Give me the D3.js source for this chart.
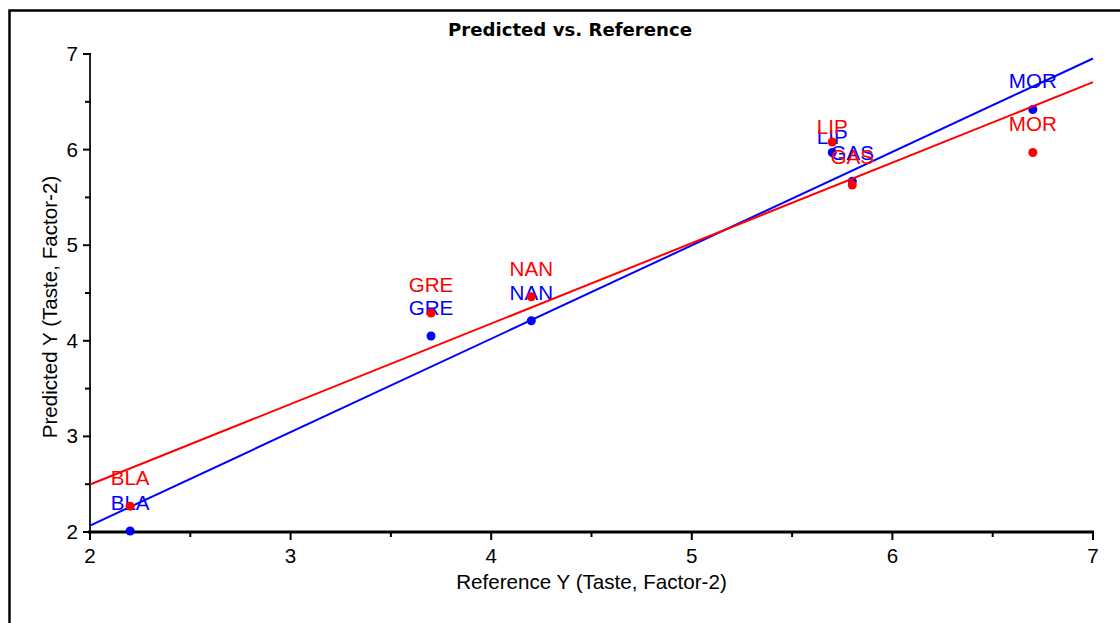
<!DOCTYPE html>
<html>
<head>
<meta charset="utf-8">
<script src="https://cdn.jsdelivr.net/npm/d3@7"></script>
<style>
  html, body { margin: 0; padding: 0; background: #fff; }
  svg { display: block; }
  text { font-family: "Liberation Sans", Arial, sans-serif; }
</style>
</head>
<body>
<svg id="chart" width="1120" height="623"></svg>
<script>
// Samples and their reference values
const samples = ["BLA", "GRE", "NAN", "LIP", "GAS", "MOR"];
const referenceY = [2.2, 3.7, 4.2, 5.7, 5.8, 6.7];

// Predicted values for the two predictions (calibration / validation)
const predictedBlue = [2.01, 4.05, 4.21, 5.97, 5.67, 6.42];
const predictedRed  = [2.27, 4.29, 4.46, 6.08, 5.63, 5.97];

const xTicks = [2, 3, 4, 5, 6, 7];
const yTicks = [2, 3, 4, 5, 6, 7];
const minorTicks = [2.5, 3.5, 4.5, 5.5, 6.5];

const titleText = "Predicted vs. Reference";
const xTitle = "Reference Y (Taste, Factor-2)";
const yTitle = "Predicted Y (Taste, Factor-2)";

const svg = d3.select("#chart");
const plot = { left: 90, right: 1093, top: 54, bottom: 532 };
const FS = "20.6px";

const x = d3.scaleLinear().domain([2, 7]).range([plot.left, plot.right]);
const y = d3.scaleLinear().domain([2, 7]).range([plot.bottom, plot.top]);

// outer frame
svg.append("rect")
  .attr("x", 9.5).attr("y", 10.5)
  .attr("width", 1200).attr("height", 800)
  .attr("fill", "none").attr("stroke", "#000").attr("stroke-width", 2.5);

// title
svg.append("text")
  .attr("x", 570).attr("y", 36)
  .attr("text-anchor", "middle")
  .style("font-family", "'DejaVu Sans', Tahoma, sans-serif")
  .style("font-weight", "bold")
  .style("font-size", "18.5px")
  .attr("textLength", 244)
  .attr("lengthAdjust", "spacingAndGlyphs")
  .text(titleText);

// least-squares fit of predicted on reference
function fit(xs, ys) {
  const n = xs.length;
  const mx = d3.mean(xs), my = d3.mean(ys);
  let sxy = 0, sxx = 0;
  for (let i = 0; i < n; i++) {
    sxy += (xs[i] - mx) * (ys[i] - my);
    sxx += (xs[i] - mx) * (xs[i] - mx);
  }
  const b = sxy / sxx;
  return { slope: b, intercept: my - b * mx };
}

// x axis
const gx = svg.append("g").attr("transform", `translate(0,${plot.bottom})`);
gx.append("line")
  .attr("x1", plot.left - 2).attr("x2", plot.right + 1)
  .attr("stroke", "#000").attr("stroke-width", 3);
gx.selectAll("line.major").data(xTicks).join("line")
  .attr("class", "major")
  .attr("x1", d => x(d)).attr("x2", d => x(d))
  .attr("y1", 0).attr("y2", 8)
  .attr("stroke", "#000").attr("stroke-width", 2);
gx.selectAll("line.minor").data(minorTicks).join("line")
  .attr("class", "minor")
  .attr("x1", d => x(d)).attr("x2", d => x(d))
  .attr("y1", 0).attr("y2", 5)
  .attr("stroke", "#000").attr("stroke-width", 2);
gx.selectAll("text").data(xTicks).join("text")
  .attr("x", d => x(d)).attr("y", 31)
  .attr("text-anchor", "middle")
  .style("font-size", FS)
  .text(d => d);

// y axis
const gy = svg.append("g").attr("transform", `translate(${plot.left},0)`);
gy.append("line")
  .attr("y1", plot.top).attr("y2", plot.bottom)
  .attr("stroke", "#222").attr("stroke-width", 2);
gy.selectAll("line.major").data(yTicks).join("line")
  .attr("class", "major")
  .attr("y1", d => y(d)).attr("y2", d => y(d))
  .attr("x1", -7).attr("x2", 1)
  .attr("stroke", "#000").attr("stroke-width", 2);
gy.selectAll("line.minor").data(minorTicks).join("line")
  .attr("class", "minor")
  .attr("y1", d => y(d)).attr("y2", d => y(d))
  .attr("x1", -5).attr("x2", 1)
  .attr("stroke", "#000").attr("stroke-width", 2);
gy.selectAll("text").data(yTicks).join("text")
  .attr("x", -12).attr("y", d => y(d) + 7)
  .attr("text-anchor", "end")
  .style("font-size", FS)
  .text(d => d);

// axis titles
svg.append("text")
  .attr("x", (plot.left + plot.right) / 2).attr("y", 589)
  .attr("text-anchor", "middle")
  .style("font-size", FS)
  .text(xTitle);
svg.append("text")
  .attr("transform", `translate(57,${(plot.top + plot.bottom) / 2 + 14}) rotate(-90)`)
  .attr("text-anchor", "middle")
  .style("font-size", FS)
  .text(yTitle);

// labels that would sit on top of their neighbours are lifted less
const labelLift = { LIP: 15 };

function drawSeries(values, color) {
  const g = svg.append("g");
  const f = fit(referenceY, values);
  g.append("line")
    .attr("x1", x(2)).attr("y1", y(f.intercept + f.slope * 2))
    .attr("x2", x(7)).attr("y2", y(f.intercept + f.slope * 7))
    .attr("stroke", color).attr("stroke-width", 2);
  const pts = samples.map((s, i) => ({ s, rx: referenceY[i], py: values[i] }));
  g.selectAll("circle").data(pts).join("circle")
    .attr("cx", d => x(d.rx)).attr("cy", d => y(d.py))
    .attr("r", 4.5).attr("fill", color);
  g.selectAll("text").data(pts).join("text")
    .attr("x", d => x(d.rx))
    .attr("y", d => y(d.py) - (labelLift[d.s] || 28) + 7)
    .attr("text-anchor", "middle")
    .style("font-size", FS)
    .attr("fill", color)
    .text(d => d.s);
}

drawSeries(predictedBlue, "#0000ff");
drawSeries(predictedRed, "#ff0000");
</script>
</body>
</html>
